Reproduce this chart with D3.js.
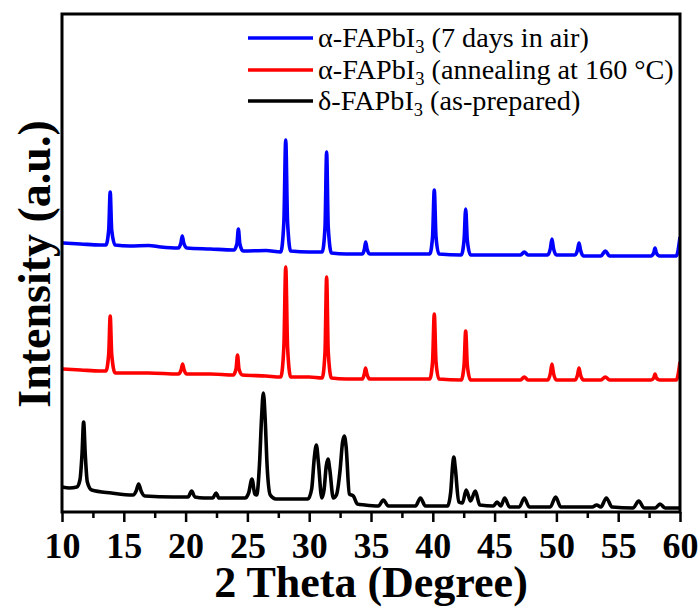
<!DOCTYPE html>
<html>
<head>
<meta charset="utf-8">
<script src="https://cdn.jsdelivr.net/npm/d3@7"></script>
<style>
  html, body { margin: 0; padding: 0; background: #fff; }
  svg { display: block; }
</style>
</head>
<body>
<svg id="chart" width="700" height="608"></svg>
<script>
// XRD patterns: [2θ (deg), intensity (a.u., stacked offset included)]
const airPattern = [
  [10.0, 269], [11.5, 268], [13.1, 267], [13.55, 267], [13.78, 282], [13.9, 320], [14.02, 282], [14.3, 267],
  [15.5, 266], [17.0, 266.5], [18.0, 265], [19.4, 264], [19.62, 269], [19.73, 276], [19.85, 269], [20.1, 264],
  [22.0, 263], [23.9, 262], [24.15, 268], [24.27, 283], [24.39, 268], [24.65, 261], [26.5, 261.5], [27.7, 260],
  [27.95, 290], [28.1, 372], [28.25, 290], [28.5, 261], [30.0, 260], [31.05, 260], [31.28, 285], [31.41, 360],
  [31.54, 285], [31.8, 259], [33.0, 258], [34.3, 258], [34.47, 263], [34.57, 270], [34.68, 263], [34.9, 258],
  [37.0, 258], [39.75, 258], [39.98, 275], [40.12, 322], [40.26, 275], [40.5, 258], [42.3, 257], [42.53, 272],
  [42.66, 303], [42.79, 272], [43.05, 257], [45.0, 257], [47.1, 257], [47.4, 260], [47.7, 257], [49.3, 257],
  [49.52, 264], [49.64, 273], [49.76, 264], [50.0, 257], [51.5, 257], [51.71, 262], [51.83, 269], [51.95, 262],
  [52.2, 256], [53.6, 256], [53.96, 261], [54.3, 256], [57.65, 256], [57.87, 259], [57.98, 264], [58.09, 259],
  [58.35, 256], [59.7, 256], [60.0, 275]
];

const annealedPattern = [
  [10.0, 143], [11.5, 142], [13.1, 141], [13.55, 141], [13.78, 158], [13.9, 196], [14.02, 158], [14.3, 139],
  [17.0, 139], [19.4, 138], [19.64, 142], [19.76, 148], [19.88, 142], [20.1, 138], [22.0, 138], [23.85, 137],
  [24.08, 143], [24.2, 157], [24.32, 143], [24.6, 137], [26.5, 136], [27.7, 135], [27.95, 165], [28.1, 245],
  [28.25, 165], [28.5, 135], [30.0, 135], [31.05, 134], [31.28, 160], [31.41, 235], [31.54, 160], [31.8, 134],
  [33.0, 133], [34.3, 133], [34.46, 138], [34.56, 144], [34.67, 138], [34.9, 133], [37.0, 133], [39.75, 133],
  [39.98, 150], [40.12, 198], [40.26, 150], [40.5, 133], [42.3, 132], [42.53, 147], [42.66, 181], [42.79, 147],
  [43.05, 132], [45.0, 132], [47.1, 132], [47.4, 135], [47.7, 132], [49.3, 132], [49.52, 139], [49.64, 148],
  [49.76, 139], [50.0, 132], [51.5, 132], [51.71, 137], [51.83, 144], [51.95, 137], [52.2, 132], [53.6, 132],
  [53.96, 135], [54.3, 132], [57.65, 132], [57.87, 134], [57.98, 138], [58.09, 134], [58.35, 132], [59.7, 132],
  [60.0, 150]
];

const preparedPattern = [
  [10.0, 25], [10.6, 24], [11.2, 25], [11.45, 32], [11.62, 58], [11.75, 90], [11.88, 58], [12.05, 30],
  [12.4, 22], [14.0, 19], [15.75, 17], [16.0, 21], [16.2, 28], [16.4, 21], [16.7, 16], [19.0, 15],
  [20.2, 15], [20.49, 21], [20.75, 15], [21.5, 14], [22.2, 14], [22.46, 19], [22.7, 14], [24.8, 14],
  [25.1, 19], [25.37, 33], [25.6, 18], [25.75, 17], [25.98, 48], [26.15, 95], [26.29, 119], [26.43, 95],
  [26.6, 45], [26.85, 17], [27.3, 13], [29.9, 13], [30.2, 23], [30.42, 55], [30.58, 67], [30.74, 50],
  [31.02, 14], [31.2, 22], [31.38, 46], [31.52, 53], [31.66, 43], [31.95, 14], [32.2, 17], [32.5, 42],
  [32.7, 70], [32.84, 76], [32.98, 66], [33.25, 18], [33.57, 16], [33.9, 8], [34.5, 7], [35.6, 6],
  [36.0, 12], [36.4, 6], [38.6, 6], [39.0, 14], [39.4, 6], [41.2, 6], [41.45, 20], [41.6, 46],
  [41.7, 55], [41.82, 44], [42.1, 10], [42.4, 9], [42.7, 22], [43.05, 11], [43.44, 21], [43.8, 7],
  [44.9, 6], [45.2, 10], [45.5, 6], [45.82, 14], [46.2, 5], [47.0, 5], [47.4, 14], [47.8, 5],
  [49.5, 5], [49.94, 15], [50.35, 5], [52.9, 5], [53.26, 7], [53.6, 5], [54.04, 14], [54.5, 5],
  [56.2, 4], [56.66, 11], [57.1, 4], [58.0, 4], [58.38, 8], [58.8, 4], [60.0, 4]
];

const seriesNames = [
  { base: "\u03b1-FAPbI", sub: "3", rest: " (7 days in air)" },
  { base: "\u03b1-FAPbI", sub: "3", rest: " (annealing at 160 \u00b0C)" },
  { base: "\u03b4-FAPbI", sub: "3", rest: " (as-prepared)" }
];
const seriesColors = ["#0000ff", "#ff0000", "#000000"];
const xTicks = [10, 15, 20, 25, 30, 35, 40, 45, 50, 55, 60];
const xMinorTicks = [12.5, 17.5, 22.5, 27.5, 32.5, 37.5, 42.5, 47.5, 52.5, 57.5];
const xTitle = "2 Theta (Degree)";
const yTitle = "Intensity (a.u.)";

const patterns = [airPattern, annealedPattern, preparedPattern];

const svg = d3.select("#chart");
const plot = { left: 62, right: 680, top: 14, bottom: 512 };

const x = d3.scaleLinear().domain([10, 60]).range([plot.left, plot.right]);
const y = d3.scaleLinear().domain([0, 498]).range([plot.bottom, plot.top]);

const serif = "'Liberation Serif', 'Times New Roman', serif";

// clip traces to the frame
svg.append("clipPath").attr("id", "plotClip")
  .append("rect")
  .attr("x", plot.left).attr("y", plot.top)
  .attr("width", plot.right - plot.left).attr("height", plot.bottom - plot.top);

const line = d3.line()
  .x(d => x(d[0]))
  .y(d => y(d[1]))
  .curve(d3.curveMonotoneX);

const traces = svg.append("g").attr("clip-path", "url(#plotClip)");
patterns.forEach((p, i) => {
  traces.append("path")
    .datum(p)
    .attr("fill", "none")
    .attr("stroke", seriesColors[i])
    .attr("stroke-width", 3.6)
    .attr("stroke-linejoin", "round")
    .attr("d", line);
});

// bottom axis: major and minor ticks pointing outward
const xAxis = d3.axisBottom(x).tickValues(xTicks).tickSize(10).tickPadding(10).tickFormat(d3.format("d"));
const xMinor = d3.axisBottom(x).tickValues(xMinorTicks).tickSize(6).tickFormat("");

const gx = svg.append("g").attr("transform", `translate(0,${plot.bottom})`).call(xAxis);
gx.select(".domain").remove();
gx.selectAll(".tick line").attr("stroke", "#000").attr("stroke-width", 2.5);
gx.selectAll(".tick text")
  .attr("fill", "#000")
  .style("font-family", serif)
  .style("font-weight", "bold")
  .style("font-size", "36px");

const gm = svg.append("g").attr("transform", `translate(0,${plot.bottom})`).call(xMinor);
gm.select(".domain").remove();
gm.selectAll(".tick line").attr("stroke", "#000").attr("stroke-width", 2.5);

// frame
svg.append("rect")
  .attr("x", plot.left).attr("y", plot.top)
  .attr("width", plot.right - plot.left).attr("height", plot.bottom - plot.top)
  .attr("fill", "none").attr("stroke", "#000").attr("stroke-width", 3);

// axis titles
svg.append("text")
  .attr("x", (plot.left + plot.right) / 2)
  .attr("y", 597)
  .attr("text-anchor", "middle")
  .style("font-family", serif)
  .style("font-weight", "bold")
  .style("font-size", "44px")
  .text(xTitle);

svg.append("text")
  .attr("transform", `translate(50,${(plot.top + plot.bottom) / 2 + 1}) rotate(-90)`)
  .attr("text-anchor", "middle")
  .style("font-family", serif)
  .style("font-weight", "bold")
  .style("font-size", "46px")
  .text(yTitle);

// legend
const legendRows = [38, 70, 101];
const legend = svg.append("g");
seriesNames.forEach((n, i) => {
  const ly = legendRows[i];
  legend.append("line")
    .attr("x1", 248).attr("x2", 313)
    .attr("y1", ly).attr("y2", ly)
    .attr("stroke", seriesColors[i]).attr("stroke-width", 3.4);
  const t = legend.append("text")
    .attr("x", 318).attr("y", ly + 9)
    .style("font-family", serif)
    .style("font-size", "28.2px")
    .attr("fill", "#000");
  t.append("tspan").text(n.base);
  t.append("tspan").attr("dy", 6).style("font-size", "18.5px").text(n.sub);
  t.append("tspan").attr("dy", -6).text(n.rest);
});
</script>
</body>
</html>
